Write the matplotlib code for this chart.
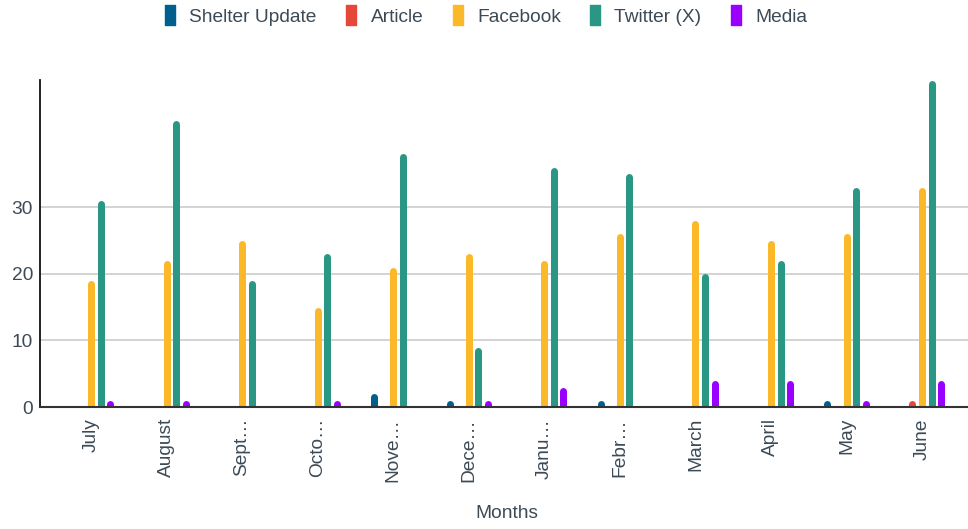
import numpy as np
import matplotlib.pyplot as plt
from matplotlib.lines import Line2D
from matplotlib.path import Path

plt.rcParams['font.family'] = ['Liberation Sans', 'DejaVu Sans']

# Datos
months = ['July', 'August', 'Sept…', 'Octo…', 'Nove…', 'Dece…',
          'Janu…', 'Febr…', 'March', 'April', 'May', 'June']
series_names = ['Shelter Update', 'Article', 'Facebook', 'Twitter (X)', 'Media']
shelter = [0, 0, 0, 0, 2, 1, 0, 1, 0, 0, 1, 0]
article = [0, 0, 0, 0, 0, 0, 0, 0, 0, 0, 0, 1]
facebook = [19, 22, 25, 15, 21, 23, 22, 26, 28, 25, 26, 33]
twitter = [31, 43, 19, 23, 38, 9, 36, 35, 20, 22, 33, 49]
media = [1, 1, 0, 1, 0, 1, 3, 0, 4, 4, 1, 4]
colors = ['#005f8f', '#e5483a', '#fbb829', '#2a9785', '#9900ff']

text_color = '#3c4a56'
fs = 13.8

fig = plt.figure(figsize=(9.68, 5.29), dpi=100)
ax = fig.add_axes([40 / 968, 1 - 407 / 529, 928 / 968, 327 / 529])

ymax = 49.1
x = np.arange(len(months))
slot = 0.127
bar_px = 7
# medio ancho de barra en unidades de datos (para la punta redondeada)
r = (bar_px / 2) / (327 / ymax)

for i, (name, vals, c) in enumerate(zip(series_names,
                                         [shelter, article, facebook, twitter, media],
                                         colors)):
    vals = np.array(vals, dtype=float)
    xs = x + (i - 2) * slot
    mask = vals > 0
    ax.vlines(xs[mask], 0, vals[mask] - r, colors=c,
              linewidth=bar_px * 72 / 100, capstyle='round', zorder=3)

ax.set_xlim(-0.675, 11.608)
ax.set_ylim(0, ymax)
ax.set_yticks([0, 10, 20, 30])
ax.yaxis.grid(True, color='#cccccc', linewidth=1.2)
ax.set_axisbelow(True)
ax.set_xticks(x)
ax.set_xticklabels(months, rotation=90)
ax.tick_params(axis='both', length=0, labelsize=fs, colors=text_color, pad=8)
ax.tick_params(axis='y', pad=5)

for s in ['top', 'right']:
    ax.spines[s].set_visible(False)
ax.spines['left'].set_color('#111111')
ax.spines['left'].set_linewidth(1.3)
ax.spines['bottom'].set_color('#333333')
ax.spines['bottom'].set_linewidth(1.5)
ax.spines['bottom'].set_zorder(4)

fig.text(507 / 968, 1 - 514 / 529, 'Months', fontsize=fs, color=text_color,
         ha='center', va='center')

# marcador rectangular vertical para la leyenda
rect = Path([[-0.55, -1], [0.55, -1], [0.55, 1], [-0.55, 1], [-0.55, -1]],
            [Path.MOVETO, Path.LINETO, Path.LINETO, Path.LINETO, Path.CLOSEPOLY])
handles = [Line2D([], [], marker=rect, linestyle='none', markersize=14,
                  markerfacecolor=c, markeredgecolor=c) for c in colors]
fig.legend(handles, series_names, loc='center', ncol=5,
           bbox_to_anchor=(0.5, 1 - 17 / 529), frameon=False, fontsize=fs,
           labelcolor=text_color, handletextpad=0.5, columnspacing=1.3,
           handlelength=1.0)

plt.savefig('out.png', dpi=100)
